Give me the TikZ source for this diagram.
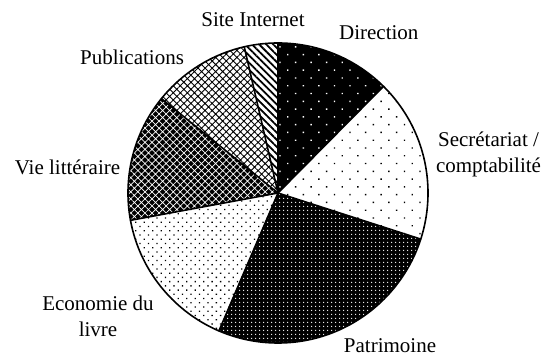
\documentclass[tikz,border=0pt]{standalone}
\usepackage{fontspec}
\setmainfont{Liberation Serif}
\usetikzlibrary{patterns.meta}
\newcommand\myslice[3]{\path[#3] (c) -- ++(#1:150) arc[start angle=#1, end angle=#2, radius=150] -- cycle;}
\begin{document}
\begin{tikzpicture}[x=1pt,y=1pt,
  lab/.style={font=\fontsize{21}{26}\selectfont, anchor=base, inner sep=0pt},
  border/.style={draw=black, line width=1.6pt, line join=round, line cap=round},
  blackbg/.style={preaction={fill=black}, pattern color=white},
  whitebg/.style={preaction={fill=white}, pattern color=black}]
\useasboundingbox (0,0) rectangle (552,358);
\coordinate (c) at (278,165);
% Direction
\myslice{45.3}{90}{blackbg, pattern={Dots[distance=11pt,angle=45,radius=1pt]}}
% Secretariat
\myslice{-17.9}{45.3}{whitebg, pattern={Dots[distance=11pt,angle=45,radius=1pt]}}
% Patrimoine
\myslice{-113.2}{-17.9}{blackbg, pattern={Dots[distance=4pt,radius=0.8pt]}}
% Economie
\myslice{-169.5}{-113.2}{whitebg, pattern={Dots[distance=6pt,angle=45,radius=0.9pt]}}
% Vie litteraire
\myslice{141}{190.5}{blackbg, pattern={Hatch[distance=5pt,angle=45,line width=0.7pt]}}
% Publications
\myslice{103}{141}{whitebg, pattern={Hatch[distance=5pt,angle=45,line width=0.9pt]}}
% Site Internet
\myslice{90}{103}{whitebg, pattern={Lines[distance=5pt,angle=-45,line width=1.8pt]}}
% borders
\foreach \a in {90,45.3,-17.9,-113.2,190.5,141,103}
  \draw[border] (c) -- ++(\a:150);
\draw[border] (c) circle[radius=150];
% labels
\node[lab] (site) at (253,331.3) {Site Internet};
\node[lab] (dir) at (378.8,318.7) {Direction};
\node[lab] (pub) at (132,293.7) {Publications};
\node[lab] (vie) at (67.5,183) {Vie littéraire};
\node[lab] (eco) at (98,47.3) {\begin{tabular}[t]{@{}c@{}}Economie du\\livre\end{tabular}};
\node[lab] (sec) at (488.5,211.3) {\begin{tabular}[t]{@{}c@{}}Secrétariat /\\comptabilité\end{tabular}};
\node[lab] (pat) at (390,5) {Patrimoine};
\end{tikzpicture}
\end{document}
